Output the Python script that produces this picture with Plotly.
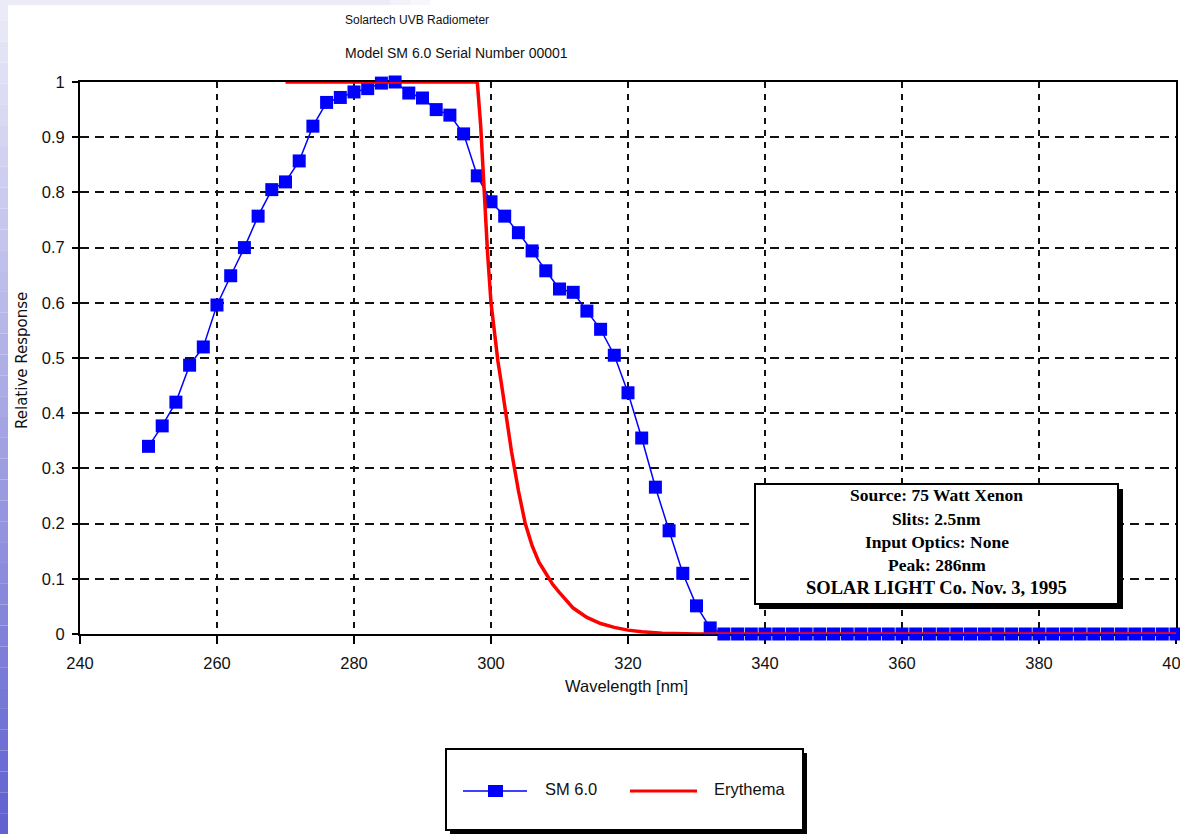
import plotly.graph_objects as go

# ---------------- data ----------------
sm_wavelength = [250, 252, 254, 256, 258, 260, 262, 264, 266, 268,
                 270, 272, 274, 276, 278, 280, 282, 284, 286, 288,
                 290, 292, 294, 296, 298, 300, 302, 304, 306, 308,
                 310, 312, 314, 316, 318, 320, 322, 324, 326, 328,
                 330, 332, 334, 336, 338, 340, 342, 344, 346, 348,
                 350, 352, 354, 356, 358, 360, 362, 364, 366, 368,
                 370, 372, 374, 376, 378, 380, 382, 384, 386, 388,
                 390, 392, 394, 396, 398, 400]
sm_response = [0.340, 0.377, 0.420, 0.487, 0.520, 0.596, 0.649, 0.700, 0.757, 0.805,
               0.819, 0.857, 0.920, 0.963, 0.972, 0.982, 0.988, 0.998, 1.000, 0.980,
               0.971, 0.950, 0.940, 0.906, 0.830, 0.783, 0.757, 0.727, 0.694, 0.658,
               0.625, 0.619, 0.585, 0.552, 0.505, 0.437, 0.355, 0.266, 0.187, 0.110,
               0.051, 0.011, 0.0, 0.0, 0.0, 0.0, 0.0, 0.0, 0.0, 0.0,
               0.0, 0.0, 0.0, 0.0, 0.0, 0.0, 0.0, 0.0, 0.0, 0.0,
               0.0, 0.0, 0.0, 0.0, 0.0, 0.0, 0.0, 0.0, 0.0, 0.0,
               0.0, 0.0, 0.0, 0.0, 0.0, 0.0]

ery_wavelength = [270, 298, 298.5, 299, 299.5, 300, 300.5, 301, 301.5, 302,
                  302.5, 303, 304, 305, 306, 307, 308, 309, 310, 312,
                  314, 316, 318, 320, 322, 325, 330, 340, 400]
ery_response = [1.0, 1.0, 0.92, 0.79, 0.69, 0.60, 0.545, 0.495, 0.455, 0.41,
                0.37, 0.33, 0.26, 0.20, 0.16, 0.13, 0.11, 0.09, 0.075, 0.047,
                0.030, 0.019, 0.012, 0.007, 0.004, 0.0015, 0.0, 0.0, 0.0]

series_names = ["SM 6.0", "Erythema"]
x_ticks = [240, 260, 280, 300, 320, 340, 360, 380, 400]
y_ticks = [0, 0.1, 0.2, 0.3, 0.4, 0.5, 0.6, 0.7, 0.8, 0.9, 1]
y_tick_labels = ["0", "0.1", "0.2", "0.3", "0.4", "0.5", "0.6", "0.7", "0.8", "0.9", "1"]
title_lines = ["Solartech UVB Radiometer", "Model SM 6.0 Serial Number 00001"]
x_title = "Wavelength [nm]"
y_title = "Relative Response"
info_lines = ["Source: 75 Watt Xenon", "Slits: 2.5nm", "Input Optics: None",
              "Peak: 286nm", "SOLAR LIGHT Co. Nov. 3, 1995"]

# ---------------- layout helpers ----------------
W, H = 1180, 834
L, R, T, B = 80, 4, 82, 200
PW, PH = W - L - R, H - T - B


def px(x):
    return (x - L) / PW


def py(y):
    return (H - B - y) / PH


SANS = "Liberation Sans, Arial, sans-serif"
SERIF = "Liberation Serif, Times New Roman, serif"
BLUE = "#0000ff"
RED = "#ff0000"

fig = go.Figure()
fig.add_trace(go.Scatter(
    x=sm_wavelength, y=sm_response, name=series_names[0], mode="lines+markers",
    line=dict(color=BLUE, width=1.5),
    marker=dict(symbol="square", size=13, color=BLUE, line=dict(width=0)),
    cliponaxis=False, showlegend=False))
fig.add_trace(go.Scatter(
    x=ery_wavelength, y=ery_response, name=series_names[1], mode="lines",
    line=dict(color=RED, width=3.5), cliponaxis=False, showlegend=False))

shapes = []
annotations = []

# background gradient strips (left edge and top edge)
n = 40
top = (236, 236, 248)
bot = (96, 96, 208)
for i in range(n):
    t = (i + 0.5) / n
    c = tuple(int(round(top[k] + (bot[k] - top[k]) * t)) for k in range(3))
    shapes.append(dict(type="rect", xref="paper", yref="paper",
                       x0=px(0), x1=px(8), y0=py(H * i / n), y1=py(H * (i + 1) / n),
                       fillcolor="rgb(%d,%d,%d)" % c, line=dict(width=0), layer="below"))
for xa, xb, col in [(8, 390, "#ececf7"), (390, 410, "#f2f2fa"), (410, 430, "#f8f8fc")]:
    shapes.append(dict(type="rect", xref="paper", yref="paper",
                       x0=px(xa), x1=px(xb), y0=py(0), y1=py(5),
                       fillcolor=col, line=dict(width=0), layer="below"))

# info box with shadow
shapes.append(dict(type="rect", xref="paper", yref="paper",
                   x0=px(759), x1=px(1123), y0=py(489), y1=py(609),
                   fillcolor="black", line=dict(width=0), layer="above"))
shapes.append(dict(type="rect", xref="paper", yref="paper",
                   x0=px(755), x1=px(1118), y0=py(484), y1=py(604),
                   fillcolor="white", line=dict(color="black", width=2), layer="above"))
for line_text, yc, fs in zip(info_lines, [495, 519, 542, 565, 588], [17.5, 17.5, 17.5, 17.5, 18.5]):
    annotations.append(dict(text="<b>%s</b>" % line_text, xref="paper", yref="paper",
                            x=px(936.5), y=py(yc), xanchor="center", yanchor="middle",
                            showarrow=False, font=dict(family=SERIF, size=fs, color="black")))

# legend box with shadow
shapes.append(dict(type="rect", xref="paper", yref="paper",
                   x0=px(450), x1=px(807), y0=py(753), y1=py(840),
                   fillcolor="black", line=dict(width=0), layer="above"))
shapes.append(dict(type="rect", xref="paper", yref="paper",
                   x0=px(446), x1=px(803), y0=py(749), y1=py(830),
                   fillcolor="white", line=dict(color="black", width=2), layer="above"))
shapes.append(dict(type="line", xref="paper", yref="paper",
                   x0=px(463), x1=px(527), y0=py(791), y1=py(791),
                   line=dict(color=BLUE, width=1.5), layer="above"))
shapes.append(dict(type="rect", xref="paper", yref="paper",
                   x0=px(488), x1=px(503), y0=py(785), y1=py(797),
                   fillcolor=BLUE, line=dict(width=0), layer="above"))
shapes.append(dict(type="line", xref="paper", yref="paper",
                   x0=px(630), x1=px(697), y0=py(791), y1=py(791),
                   line=dict(color=RED, width=3), layer="above"))
for name, xl in zip(series_names, [543, 712]):
    annotations.append(dict(text=name, xref="paper", yref="paper",
                            x=px(xl), y=py(789), xanchor="left", yanchor="middle",
                            showarrow=False, font=dict(family=SANS, size=16.5, color="#111")))

# titles
for line_text, yc, fs in zip(title_lines, [20, 53], [12, 14]):
    annotations.append(dict(text=line_text, xref="paper", yref="paper",
                            x=px(343), y=py(yc), xanchor="left", yanchor="middle",
                            showarrow=False, font=dict(family=SANS, size=fs, color="#111")))
annotations.append(dict(text=x_title, xref="paper", yref="paper",
                        x=px(626), y=py(686), xanchor="center", yanchor="middle",
                        showarrow=False, font=dict(family=SANS, size=16.5, color="#111")))
annotations.append(dict(text=y_title, xref="paper", yref="paper",
                        x=px(22), y=py(361), xanchor="center", yanchor="middle", textangle=-90,
                        showarrow=False, font=dict(family="DejaVu Sans, sans-serif", size=15, color="#111")))

axis_common = dict(showline=True, mirror=True, linecolor="black", linewidth=2,
                   ticks="outside", tickcolor="black", tickwidth=2,
                   showgrid=True, gridcolor="#111", gridwidth=2, zeroline=False,
                   tickfont=dict(family=SANS, size=16.5, color="#111"),
                   layer="below traces", ticklabeloverflow="allow", automargin=False)

fig.update_layout(
    width=W, height=H,
    margin=dict(l=L, r=R, t=T, b=B, pad=0, autoexpand=False),
    paper_bgcolor="white", plot_bgcolor="white",
    showlegend=False,
    xaxis=dict(range=[240, 400], tickvals=x_ticks, ticklen=8, griddash="6px,6px",
               ticklabelstandoff=5, **axis_common),
    yaxis=dict(range=[0, 1], tickvals=y_ticks, ticktext=y_tick_labels, ticklen=6,
               griddash="9px,6px", ticklabelstandoff=4, **axis_common),
    shapes=shapes,
    annotations=annotations,
)

fig.write_html("out.html")
